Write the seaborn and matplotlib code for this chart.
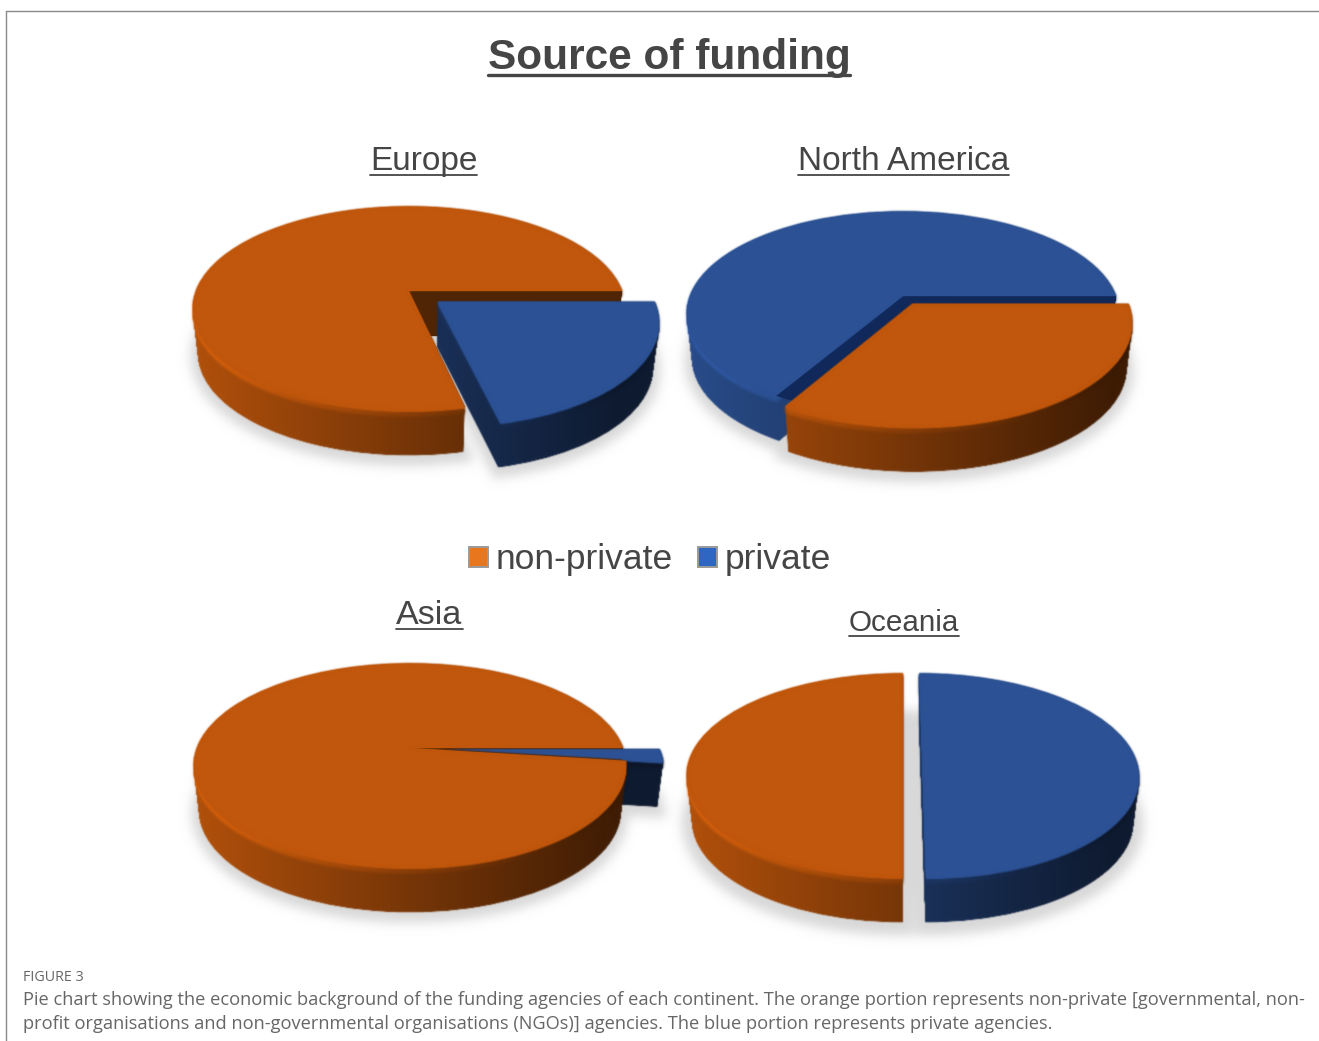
import numpy as np
import seaborn as sns
import matplotlib
matplotlib.use("Agg")
import matplotlib.pyplot as plt
from matplotlib.lines import Line2D
from matplotlib.patches import Patch, PathPatch, Wedge
from matplotlib.path import Path
from matplotlib.transforms import Transform

# Share of funding agencies per continent (percent)
continents = ["Europe", "North America", "Asia", "Oceania"]
non_private = [78.5, 33.5, 98, 50]
private = [21.5, 66.5, 2, 50]
series_labels = ["non-private", "private"]

caption_head = "FIGURE 3"
caption_lines = [
    "Pie chart showing the economic background of the funding agencies of each continent. "
    "The orange portion represents non-private [governmental, non-",
    "profit organisations and non-governmental organisations (NGOs)] agencies. "
    "The blue portion represents private agencies.",
]

# Layout of each pie, in figure pixels
centres = [(409, 291), (903, 296), (410, 748), (903, 758)]
start_angles = [0, -120.6, 0, 90]
explodes = [(0, 0.17), (0.09, 0), (0, 0.17), (0, 0.09)]
# (side, top) stacking level of each slice
stacking = [
    [(1, 2), (3, 4)],
    [(3, 4), (1, 2)],
    [(2, 3), (1, 4)],
    [(1, 2), (3, 4)],
]
shadow_widths = [11, 11, 11, 15]
title_specs = [
    (423.5, 170, 24.0),
    (903.5, 170, 24.0),
    (429.5, 624, 24.6),
    (904, 631, 21.3),
]

RX, RY, TILT, DEPTH, TAPER = 213.0, 99.0, 0.17, 45.0, 0.024

sns.set_theme(style="white", font="Liberation Sans")
face_colors = sns.color_palette(["#C0570C", "#2C5295"])
wall_colors = ["#4F2505", "#10285A"]
legend_colors = ["#E8761C", "#2E66C4"]
ink = "#454545"


class DiscProjection(Transform):
    """Tilted-disc perspective: maps the pie's unit circle to pixel coordinates."""
    input_dims = 2
    output_dims = 2
    is_separable = False
    has_inverse = False

    def __init__(self, centre, level=0.0):
        super().__init__()
        self.centre = centre
        self.level = level

    def transform_non_affine(self, values):
        values = np.asarray(values, dtype=float)
        u, v = values[:, 0], values[:, 1]
        w = 1 + TILT * v
        s = 1 - TAPER * self.level
        x = self.centre[0] + s * RX * u / w
        y = self.centre[1] + DEPTH * self.level - RY * v / w
        return np.column_stack([x, y])


def soften(sigma):
    """Gaussian blur as an agg filter, keeping edge colours clean."""
    radius = int(np.ceil(3 * sigma))
    kernel = np.exp(-0.5 * (np.arange(-radius, radius + 1) / sigma) ** 2)
    kernel /= kernel.sum()
    pad = radius + 2

    def blur(image, dpi):
        img = np.pad(image, ((pad, pad), (pad, pad), (0, 0)))
        img = img.astype(float)
        img[..., :3] *= img[..., 3:4]
        for axis in (0, 1):
            img = np.apply_along_axis(lambda m: np.convolve(m, kernel, mode="same"), axis, img)
        alpha = np.clip(img[..., 3:4], 1e-4, None)
        img[..., :3] = np.clip(img[..., :3] / alpha, 0, 1)
        return np.clip(img, 0, 1), -pad, -pad

    return blur


def unit_path(wedge):
    return wedge.get_patch_transform().transform_path(wedge.get_path())


def sweep(wedge, centre, z0, z1, steps):
    """Union of a slice outline repeated between two depth levels."""
    base = unit_path(wedge)
    layers = [DiscProjection(centre, z).transform_path(base) for z in np.linspace(z0, z1, steps)]
    return Path.make_compound_path(*layers)


def shaded_band(ax, clip, centre, color, top_f, slope, zorder, sigma):
    xs = np.linspace(centre[0] - 1.35 * RX, centre[0] + 1.35 * RX, 700)
    t = np.clip((xs - (centre[0] - RX)) / (2 * RX), 0, 1)
    factor = top_f - slope * t
    rgb = np.clip(np.outer(factor, np.array(color)), 0, 1)[None, :, :]
    im = ax.imshow(rgb, extent=(xs[0], xs[-1], centre[1] + 200, centre[1] - 180),
                   aspect="auto", interpolation="bilinear", zorder=zorder)
    im.set_clip_path(clip, transform=ax.transData)
    im.set_agg_filter(soften(sigma))
    return im


def underlined(ax, x, y, text, size, weight="normal", gap=5, lw=1.3):
    label = ax.text(x, y, text, fontsize=size, fontweight=weight, color=ink,
                    ha="center", va="baseline", family="Liberation Sans", zorder=40)
    box = label.get_window_extent(ax.figure.canvas.get_renderer())
    ax.add_line(Line2D([box.x0, box.x1], [y + gap, y + gap], color=ink, lw=lw, zorder=40))


fig = plt.figure(figsize=(13.19, 10.41), dpi=100, facecolor="white")
ax = fig.add_axes([0, 0, 1, 1])

for i, name in enumerate(continents):
    centre = centres[i]
    wedges, _ = ax.pie([non_private[i], private[i]], colors=face_colors,
                       startangle=start_angles[i], explode=explodes[i], radius=1.0)
    for j, wedge in enumerate(wedges):
        side_z, top_z = stacking[i][j]
        base_z = 5 * i + 2

        shaded_band(ax, sweep(wedge, centre, 0.07, 1, 120), centre, face_colors[j],
                    0.92, 0.60, base_z + side_z, 0.7)
        shaded_band(ax, sweep(wedge, centre, 0.03, 0.14, 8), centre, face_colors[j],
                    1.16, 0.88, base_z + side_z + 0.2, 1.5)

        # Thin lip of face colour keeps the top edge free of dark fringes
        lip = PathPatch(sweep(wedge, centre, 0, 0.04, 4), facecolor=face_colors[j],
                        edgecolor="none", zorder=base_z + side_z + 0.3)
        ax.add_patch(lip)
        lip.set_agg_filter(soften(0.8))

        # Inner wall exposed where the other slice has been pulled out
        if explodes[i][j] == 0:
            other = wedges[1 - j]
            hole = Wedge((0, 0), 1.0, other.theta1, other.theta2).get_path()
            wall = PathPatch(hole, facecolor=wall_colors[j], edgecolor="none",
                             zorder=base_z + side_z + 0.5)
            wall.set_transform(DiscProjection(centre) + ax.transData)
            ax.add_patch(wall)
            wall.set_clip_path(sweep(wedge, centre, 0, 1, 120), transform=ax.transData)

        wedge.set_transform(DiscProjection(centre) + ax.transData)
        wedge.set_edgecolor("none")
        wedge.set_zorder(base_z + top_z)
        wedge.set_agg_filter(soften(0.7))

    # Soft ground shadow below the whole pie
    footprint = Path.make_compound_path(
        *[DiscProjection(centre, 1.06).transform_path(unit_path(w)) for w in wedges])
    shadow = PathPatch(footprint, facecolor="#D8D8D8", edgecolor="#D8D8D8",
                       lw=shadow_widths[i], zorder=1)
    shadow.set_agg_filter(soften(5.5))
    ax.add_patch(shadow)

ax.set_xlim(0, 1319)
ax.set_ylim(1041, 0)
ax.set_aspect("auto")
ax.axis("off")
fig.canvas.draw()

for name, (x, y, size) in zip(continents, title_specs):
    underlined(ax, x, y, name, size)
underlined(ax, 669, 69, "Source of funding", 30.5, weight="bold", gap=6, lw=2.4)

handles = [Patch(facecolor=c, edgecolor="#9A9A9A", lw=1.4) for c in legend_colors]
ax.legend(handles, series_labels, loc="center", bbox_to_anchor=(650, 560),
          bbox_transform=ax.transData, ncols=2, frameon=False, fontsize=25.5,
          labelcolor=ink, handlelength=0.52, handleheight=0.52, handletextpad=0.22,
          columnspacing=0.72, borderpad=0, borderaxespad=0)

# Page furniture: frame rule and caption
ax.add_line(Line2D([6, 6], [10.5, 1041], color="#8A8A8A", lw=1.0))
ax.add_line(Line2D([6, 1319], [10.5, 10.5], color="#8A8A8A", lw=1.0))
ax.text(23, 981, caption_head, fontsize=10.3, color="#666666", family="Open Sans", va="baseline")
ax.text(23, 1005, caption_lines[0], fontsize=13.18, color="#666666", family="Open Sans", va="baseline")
ax.text(23, 1029, caption_lines[1], fontsize=13.18, color="#666666", family="Open Sans", va="baseline")

fig.savefig("out.png", dpi=100, facecolor="white")
